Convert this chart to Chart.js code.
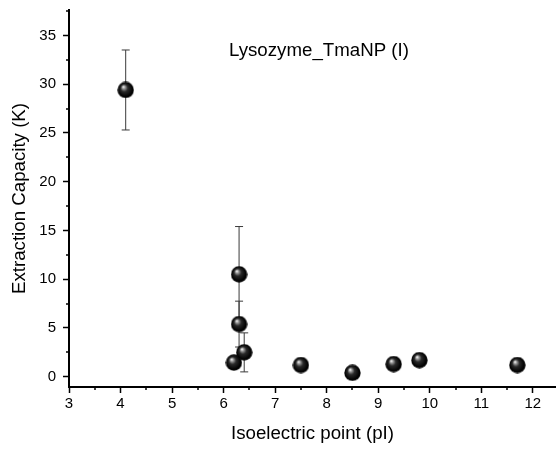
<!DOCTYPE html>
<html lang="en">

<head>
    <meta charset="UTF-8">
    <title>Lysozyme_TmaNP (I)</title>
    <script src="https://cdn.jsdelivr.net/npm/chart.js"></script>
    <style>
        body { margin: 0; background: #fff; }
    </style>
</head>

<body>
    <canvas id="pIChart" width="556" height="449"></canvas>

    <script>
        // values
        const pI = [4.1, 6.2, 6.3, 6.3, 6.4, 7.5, 8.5, 9.3, 9.8, 11.7];
        const capacity = [29.4, 1.45, 5.4, 10.5, 2.5, 1.2, 0.4, 1.3, 1.7, 1.2];
        const capacityErr = [4.1, 0.3, 2.35, 4.9, 2.0, 0.3, 0.3, 0.3, 0.3, 0.3];
        const xTickStep = 1;
        const yTickStep = 5;
        const plotLabel = 'Lysozyme_TmaNP (I)';

        // black glossy sphere used as the marker
        function makeSphere(size) {
            const c = document.createElement('canvas');
            c.width = c.height = size;
            const g = c.getContext('2d');
            const r = size / 2;
            const grad = g.createRadialGradient(r * 0.72, r * 0.62, 0.4, r, r, r);
            grad.addColorStop(0, '#f0f0f0');
            grad.addColorStop(0.15, '#9a9a9a');
            grad.addColorStop(0.4, '#2a2a2a');
            grad.addColorStop(0.85, '#000');
            grad.addColorStop(1, '#1a1a1a');
            g.fillStyle = grad;
            g.beginPath();
            g.arc(r, r, r - 0.3, 0, Math.PI * 2);
            g.fill();
            return c;
        }

        // error bars + minor ticks + inner label
        const extras = {
            id: 'extras',
            beforeDatasetsDraw(chart) {
                const ctx = chart.ctx;
                const xs = chart.scales.x, ys = chart.scales.y;
                ctx.save();
                ctx.strokeStyle = '#3a3a3a';
                ctx.lineWidth = 1;
                pI.forEach((v, i) => {
                    const px = xs.getPixelForValue(v);
                    const top = ys.getPixelForValue(capacity[i] + capacityErr[i]);
                    const bot = ys.getPixelForValue(capacity[i] - capacityErr[i]);
                    ctx.beginPath();
                    ctx.moveTo(px, top); ctx.lineTo(px, bot);
                    ctx.moveTo(px - 4, top); ctx.lineTo(px + 4, top);
                    ctx.moveTo(px - 4, bot); ctx.lineTo(px + 4, bot);
                    ctx.stroke();
                });
                ctx.restore();
            },
            afterDraw(chart) {
                const ctx = chart.ctx;
                const xs = chart.scales.x, ys = chart.scales.y;
                const area = chart.chartArea;
                ctx.save();
                ctx.strokeStyle = '#000';
                ctx.lineWidth = 1.5;
                ctx.beginPath();
                for (let v = xs.min + xTickStep / 2; v < xs.max; v += xTickStep) {
                    const px = Math.round(xs.getPixelForValue(v));
                    ctx.moveTo(px, area.bottom); ctx.lineTo(px, area.bottom + 3);
                }
                for (let v = yTickStep / 2; v < ys.max; v += yTickStep) {
                    const py = Math.round(ys.getPixelForValue(v));
                    ctx.moveTo(area.left, py); ctx.lineTo(area.left - 3, py);
                }
                ctx.stroke();

                ctx.fillStyle = '#000';
                ctx.font = '18.7px "Liberation Sans", Arial, sans-serif';
                ctx.textAlign = 'center';
                ctx.textBaseline = 'middle';
                ctx.fillText(plotLabel, xs.getPixelForValue(7.85), ys.getPixelForValue(33.4));
                ctx.restore();
            }
        };

        const axisFont = { family: '"Liberation Sans", Arial, sans-serif', size: 15 };
        const titleFont = { family: '"Liberation Sans", Arial, sans-serif', size: 18.7 };

        const ctx = document.getElementById('pIChart').getContext('2d');
        new Chart(ctx, {
            type: 'scatter',
            data: {
                datasets: [{
                    data: pI.map((x, i) => ({ x: x, y: capacity[i] })),
                    pointStyle: makeSphere(17),
                    pointRadius: 8
                }]
            },
            options: {
                responsive: false,
                animation: false,
                layout: { autoPadding: false, padding: { top: 10, right: 0, bottom: 0, left: 0 } },
                plugins: {
                    legend: { display: false },
                    tooltip: { enabled: false }
                },
                scales: {
                    x: {
                        type: 'linear',
                        min: 3,
                        max: 12.45,
                        afterFit: s => { s.height = 62; s.paddingLeft = 0; s.paddingRight = 0; },
                        ticks: { stepSize: xTickStep, includeBounds: false, color: '#000', font: axisFont, padding: 2, maxRotation: 0 },
                        grid: { drawOnChartArea: false, tickLength: 6, tickColor: '#000', tickWidth: 1.5 },
                        border: { color: '#000', width: 2 },
                        title: { display: true, text: 'Isoelectric point (pI)', color: '#000', font: titleFont, padding: { top: 0, bottom: 4 } }
                    },
                    y: {
                        min: -1.05,
                        max: 37.6,
                        afterFit: s => { s.width = 69; s.paddingTop = 0; s.paddingBottom = 0; },
                        ticks: { stepSize: yTickStep, includeBounds: false, color: '#000', font: axisFont, padding: 7 },
                        grid: { drawOnChartArea: false, tickLength: 6, tickColor: '#000', tickWidth: 1.5 },
                        border: { color: '#000', width: 2 },
                        title: { display: true, text: 'Extraction Capacity (K)', color: '#000', font: titleFont, padding: { top: 9, bottom: 0 } }
                    }
                }
            },
            plugins: [extras]
        });
    </script>
</body>

</html>
